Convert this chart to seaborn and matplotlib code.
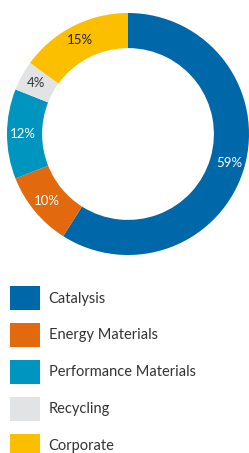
import numpy as np
import pandas as pd
import seaborn as sns
import matplotlib.pyplot as plt

# == data == #
segments = ['Catalysis', 'Energy Materials', 'Performance Materials', 'Recycling', 'Corporate']
shares = [59, 10, 12, 4, 15]
colours = ['#0068A8', '#E3690F', '#0095BF', '#E2E3E4', '#FCBF00']
label_colours = ['white', 'white', 'white', '#333333', '#222222']

df = pd.DataFrame({'segment': segments, 'share': shares})

sns.set_style('white')
plt.rcParams['font.family'] = ['Lato', 'DejaVu Sans']

fig = plt.figure(figsize=(2.49, 4.53), dpi=100)

# -- donut -- #
ax = fig.add_axes([7 / 249, (453 - 255) / 453, 242 / 249, 242 / 453])
wedges, texts, autotexts = ax.pie(
    df['share'], colors=sns.color_palette(colours), startangle=90, counterclock=False,
    radius=1, wedgeprops=dict(width=0.29, linewidth=0),
    autopct=lambda p: f'{p:.0f}%', pctdistance=0.87, textprops=dict(fontsize=9.5))
for t, c in zip(autotexts, label_colours):
    t.set_color(c)
ax.set_xlim(-1, 1)
ax.set_ylim(-1, 1)
ax.set_aspect('equal')
ax.axis('off')

# -- legend -- #
fig.legend(wedges, segments, loc='upper left', bbox_to_anchor=(10 / 249, 1 - 286 / 453),
           frameon=False, fontsize=10.5, handlelength=2.05, handleheight=2.15,
           labelspacing=0.89, handletextpad=0.6, borderpad=0, borderaxespad=0,
           labelcolor='#333333')

fig.savefig('out.png', dpi=100)
